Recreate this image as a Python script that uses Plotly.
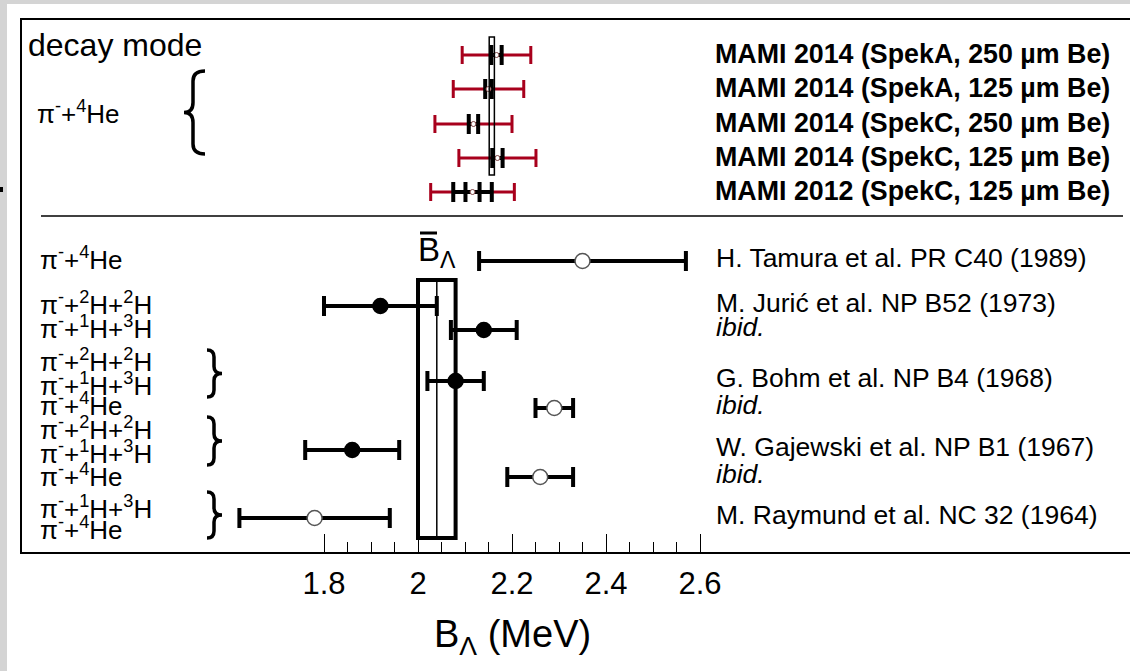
import plotly.graph_objects as go

# ---------------------------------------------------------------- data
# Upper panel: MAMI decay-pion spectroscopy results for 4_Lambda H (MeV)
mami_labels = [
    "MAMI 2014 (SpekA, 250 µm Be)",
    "MAMI 2014 (SpekA, 125 µm Be)",
    "MAMI 2014 (SpekC, 250 µm Be)",
    "MAMI 2014 (SpekC, 125 µm Be)",
    "MAMI 2012 (SpekC, 125 µm Be)",
]
mami_value = [2.167, 2.150, 2.118, 2.169, 2.116]
mami_stat = [0.011, 0.007, 0.010, 0.011, 0.015]
mami_total = [0.073, 0.075, 0.082, 0.082, 0.089]
mami2012_outer = 0.041
mami_mean, mami_mean_err = 2.157, 0.0055

# Lower panel: emulsion results
emul_labels = [
    "H. Tamura et al. PR C40 (1989)",
    "M. Jurić et al. NP B52 (1973)",
    "<i>ibid.</i>",
    "G. Bohm et al. NP B4 (1968)",
    "<i>ibid.</i>",
    "W. Gajewski et al. NP B1 (1967)",
    "<i>ibid.</i>",
    "M. Raymund et al. NC 32 (1964)",
]
emul_value = [2.35, 1.92, 2.14, 2.08, 2.29, 1.86, 2.26, 1.78]
emul_err = [0.22, 0.12, 0.07, 0.06, 0.04, 0.10, 0.07, 0.16]
emul_open = [True, False, False, False, True, False, True, True]
emul_mean, emul_mean_err = 2.04, 0.04

decay_labels = [
    "π<sup>-</sup>+<sup>4</sup>He",
    "π<sup>-</sup>+<sup>2</sup>H+<sup>2</sup>H",
    "π<sup>-</sup>+<sup>1</sup>H+<sup>3</sup>H",
    "π<sup>-</sup>+<sup>2</sup>H+<sup>2</sup>H",
    "π<sup>-</sup>+<sup>1</sup>H+<sup>3</sup>H",
    "π<sup>-</sup>+<sup>4</sup>He",
    "π<sup>-</sup>+<sup>2</sup>H+<sup>2</sup>H",
    "π<sup>-</sup>+<sup>1</sup>H+<sup>3</sup>H",
    "π<sup>-</sup>+<sup>4</sup>He",
    "π<sup>-</sup>+<sup>1</sup>H+<sup>3</sup>H",
    "π<sup>-</sup>+<sup>4</sup>He",
]

tick_vals = [1.8, 2.0, 2.2, 2.4, 2.6]
tick_text = ["1.8", "2", "2.2", "2.4", "2.6"]
minor_vals = [1.85, 1.9, 1.95, 2.05, 2.1, 2.15, 2.25, 2.3, 2.35, 2.45, 2.5, 2.55]

# ---------------------------------------------------------------- layout
W, H = 1130, 671
ML, MR, MT, MB = 22, 0, 20, 119
X_REF_PIX, X_REF_VAL, PIX_PER_MEV = 324, 1.8, 470.0
x_lo = X_REF_VAL - (X_REF_PIX - ML) / PIX_PER_MEV
x_hi = X_REF_VAL + (W - MR - X_REF_PIX) / PIX_PER_MEV
Y_TOP, Y_BOT = MT, H - MB          # y axis runs in screen rows

mami_rows = [55, 89, 124, 158, 192]
emul_rows = [261, 306, 330, 381, 408, 450, 477, 518]
decay_rows = [258, 303, 327, 360, 384, 405, 428, 452, 475, 507, 528]

RED = "#a8001c"
BLACK = "#000000"
FONT = "Liberation Sans, Arial, sans-serif"


def xp(pix):
    """screen column -> paper fraction of the plot area"""
    return (pix - ML) / (W - ML - MR)


def yp(pix):
    """screen row -> paper fraction of the plot area"""
    return (Y_BOT - pix) / (Y_BOT - Y_TOP)


fig = go.Figure()

# total (stat + syst) uncertainties of MAMI points
fig.add_trace(go.Scatter(
    x=mami_value, y=mami_rows, mode="markers",
    marker=dict(size=1, color="rgba(0,0,0,0)"),
    error_x=dict(type="data", array=mami_total, color=RED, thickness=3, width=9),
    hoverinfo="skip", showlegend=False))

# second black bar of the 2012 result
fig.add_trace(go.Scatter(
    x=[mami_value[4]], y=[mami_rows[4]], mode="markers",
    marker=dict(size=1, color="rgba(0,0,0,0)"),
    error_x=dict(type="data", array=[mami2012_outer], color=BLACK, thickness=4, width=10),
    hoverinfo="skip", showlegend=False))

# statistical uncertainties
fig.add_trace(go.Scatter(
    x=mami_value, y=mami_rows, mode="markers",
    marker=dict(size=5, color="white", line=dict(color="#7a4040", width=1)),
    error_x=dict(type="data", array=mami_stat, color=BLACK, thickness=4, width=10),
    hoverinfo="skip", showlegend=False))

# emulsion points: filled and open symbols
for is_open in (False, True):
    idx = [i for i, o in enumerate(emul_open) if o == is_open]
    fig.add_trace(go.Scatter(
        x=[emul_value[i] for i in idx],
        y=[emul_rows[i] for i in idx],
        mode="markers",
        marker=dict(size=15,
                    color="white" if is_open else BLACK,
                    line=dict(color="#555555" if is_open else BLACK, width=1.5)),
        error_x=dict(type="data", array=[emul_err[i] for i in idx],
                     color=BLACK, thickness=4, width=10),
        hoverinfo="skip", showlegend=False))

shapes = []
# emulsion average band
shapes.append(dict(type="rect", xref="x", yref="y",
                   x0=emul_mean - emul_mean_err, x1=emul_mean + emul_mean_err,
                   y0=280, y1=538, line=dict(color=BLACK, width=4), layer="below"))
shapes.append(dict(type="line", xref="x", yref="y", x0=emul_mean, x1=emul_mean,
                   y0=280, y1=538, line=dict(color=BLACK, width=1.5), layer="below"))
# MAMI average band
shapes.append(dict(type="rect", xref="x", yref="y",
                   x0=mami_mean - mami_mean_err, x1=mami_mean + mami_mean_err,
                   y0=37, y1=175, line=dict(color=BLACK, width=1.5), layer="above"))
# panel separator
shapes.append(dict(type="line", xref="paper", yref="y", x0=xp(41), x1=xp(1123),
                   y0=216, y1=216, line=dict(color=BLACK, width=1.5)))
# overline of the mean symbol
shapes.append(dict(type="line", xref="paper", yref="y", x0=xp(420), x1=xp(437),
                   y0=233, y1=233, line=dict(color=BLACK, width=3)))


def brace(x_stem, x_tip, x_arm, y0, y1, q=8):
    ym = (y0 + y1) / 2
    X = lambda v: f"{xp(v):.5f}"
    return (f"M {X(x_arm)},{y0} Q {X(x_stem)},{y0} {X(x_stem)},{y0 + q} "
            f"L {X(x_stem)},{ym - q} Q {X(x_stem)},{ym} {X(x_tip)},{ym} "
            f"Q {X(x_stem)},{ym} {X(x_stem)},{ym + q} "
            f"L {X(x_stem)},{y1 - q} Q {X(x_stem)},{y1} {X(x_arm)},{y1}")


brace_style = dict(type="path", xref="paper", yref="y",
                   line=dict(color=BLACK, width=3.5))
shapes.append(dict(path=brace(193, 184, 205, 71, 154, q=10), **brace_style))
for y0, y1 in [(350, 397), (417, 465), (492, 538)]:
    shapes.append(dict(path=brace(214, 222, 207, y0, y1, q=7), **brace_style))

# screen border strips
GREY = "#d4d4d4"
shapes.append(dict(type="rect", xref="paper", yref="paper", x0=xp(0), x1=xp(7),
                   y0=yp(H), y1=yp(0), fillcolor=GREY, line=dict(width=0), layer="below"))
shapes.append(dict(type="rect", xref="paper", yref="paper", x0=xp(0), x1=xp(W),
                   y0=yp(4), y1=yp(0), fillcolor=GREY, line=dict(width=0), layer="below"))
shapes.append(dict(type="rect", xref="paper", yref="paper", x0=xp(0), x1=xp(3),
                   y0=yp(192), y1=yp(187), fillcolor=BLACK, line=dict(width=0)))

annotations = []


def label(text, xpix, y, size, anchor="left", bold=False):
    annotations.append(dict(
        text=f"<b>{text}</b>" if bold else text,
        xref="paper", yref="paper", x=xp(xpix), y=yp(y),
        xanchor=anchor, yanchor="middle", showarrow=False,
        font=dict(family=FONT, size=size, color=BLACK)))


label("decay mode", 26, 45, 32)
label("π<sup>-</sup>+<sup>4</sup>He", 35, 112, 26)
for txt, y in zip(mami_labels, mami_rows):
    label(txt, 713, y - 1, 26.8, bold=True)
for txt, y in zip(emul_labels, emul_rows):
    label(txt, 714, y - 3, 26.5)
for txt, y in zip(decay_labels, decay_rows):
    label(txt, 38, y, 26)
label("B<sub>Λ</sub>", 416, 252, 33)
label("B<sub>Λ</sub> (MeV)", 512, 637, 38, anchor="center")

fig.update_layout(
    width=W, height=H,
    margin=dict(l=ML, r=MR, t=MT, b=MB, pad=0),
    paper_bgcolor="white", plot_bgcolor="white",
    shapes=shapes, annotations=annotations,
    xaxis=dict(
        range=[x_lo, x_hi], showgrid=False, zeroline=False,
        showline=True, linecolor=BLACK, linewidth=2, mirror=True,
        ticks="inside", ticklen=18, tickwidth=1.2, tickcolor=BLACK,
        tickvals=tick_vals, ticktext=tick_text,
        tickfont=dict(family=FONT, size=31, color=BLACK),
        ticklabelstandoff=3,
        minor=dict(tickvals=minor_vals, ticks="inside", ticklen=10,
                   tickwidth=1.2, tickcolor=BLACK, showgrid=False),
    ),
    yaxis=dict(
        range=[Y_BOT, Y_TOP], showgrid=False, zeroline=False,
        showline=True, linecolor=BLACK, linewidth=2, mirror=False,
        showticklabels=False, ticks="",
    ),
)

fig.write_html("out.html")
